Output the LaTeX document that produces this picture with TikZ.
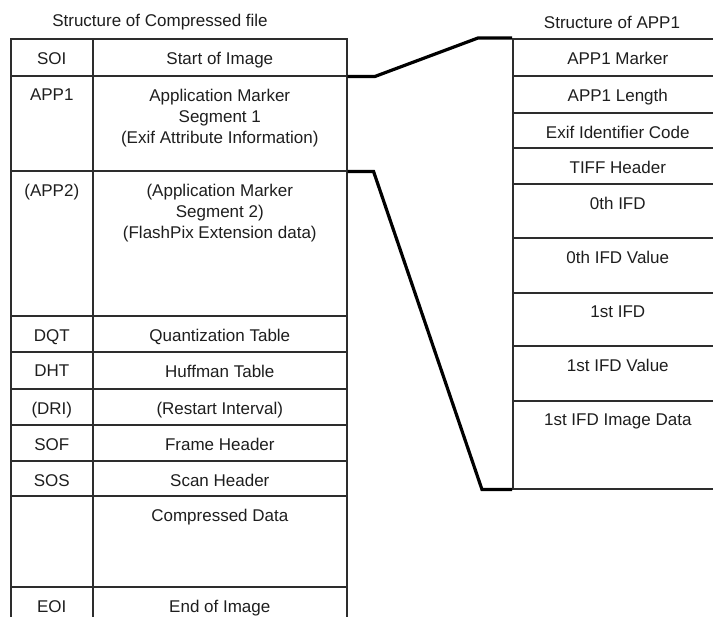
\documentclass[tikz,border=0pt]{standalone}
\usepackage{fontspec}
\setmainfont{Liberation Sans}
\usetikzlibrary{positioning}
\definecolor{tableline}{RGB}{45, 45, 45}
\definecolor{tabletext}{RGB}{30, 30, 30}

\begin{document}
\begin{tikzpicture}[
      x=1pt, y=-1pt,
      cell/.style={draw=tableline, line width=1.6pt, inner sep=0pt,
                   anchor=north west},
      txt/.style={font=\fontsize{17}{21}\selectfont, inner sep=0pt,
                  anchor=north, align=center, text=tabletext},
      link/.style={line width=3.2pt, black},
    ]
    \useasboundingbox (0,0) rectangle (713,617);
    %% titles
    \node[txt, anchor=center] (ttl-l) at (160,22) {Structure of Compressed file};
    \node[txt, anchor=center] (ttl-r) at (612,22) {Structure of APP1};
    %% structure of compressed file: top / height / marker / meaning / name
    \foreach \t/\h/\m/\d/\n in {
        38/37/SOI/Start of Image/soi,
        75/95/APP1/{Application Marker\\Segment 1\\(Exif Attribute Information)}/appa,
        170/145/(APP2)/{(Application Marker\\Segment 2)\\(FlashPix Extension data)}/appb,
        315/36/DQT/Quantization Table/dqt,
        351/37/DHT/Huffman Table/dht,
        388/36/(DRI)/(Restart Interval)/dri,
        424/36/SOF/Frame Header/sof,
        460/35/SOS/Scan Header/sos,
        495/91/{}/Compressed Data/data,
        586/44/EOI/End of Image/eoi}{
      \node[cell, minimum width=82, minimum height=\h] (\n-m) at (10,\t) {};
      \node[cell, minimum width=254, minimum height=\h] (\n-d) at (92,\t) {};
      \node[txt] (\n-mt) at ([yshift=-14pt]\n-m.north) {\m};
      \node[txt] (\n-dt) at ([yshift=-14pt]\n-d.north) {\d};
    }
    %% structure of APP1: top / height / field / name
    \foreach \t/\h/\f/\n in {
        38/37/APP1 Marker/mk,
        75/37/APP1 Length/len,
        112/35/Exif Identifier Code/id,
        147/36/TIFF Header/tiff,
        183/54/0th IFD/ifd0,
        237/55/0th IFD Value/val0,
        292/53/1st IFD/ifd1,
        345/55/1st IFD Value/val1,
        400/88/1st IFD Image Data/img}{
      \node[cell, minimum width=210, minimum height=\h] (\n) at (512,\t) {};
      \node[txt] (\n-t) at ([yshift=-14pt]\n.north) {\f};
    }
    %% APP1 is expanded on the right
    \draw[link] (soi-d.south east) -- ++(27,0)
      -- ([xshift=-34pt]mk.north west) -- (mk.north west);
    \draw[link] (appa-d.south east) -- ++(26,0)
      -- ([xshift=-30pt]img.south west) -- (img.south west);
\end{tikzpicture}
\end{document}
